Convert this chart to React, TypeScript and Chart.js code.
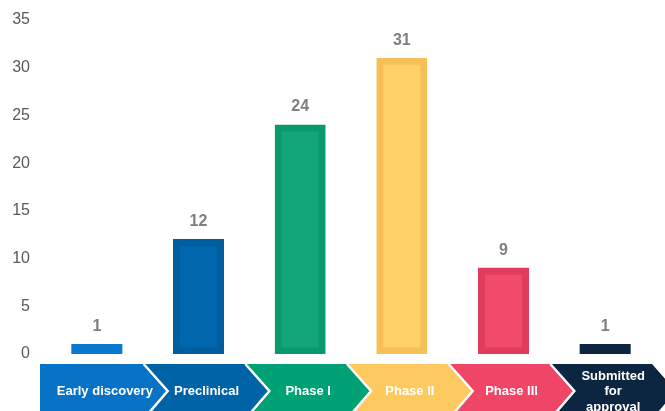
import React, { useEffect, useRef } from "react";
import { Chart, registerables } from "chart.js";

Chart.register(...registerables);

const categories: (string | string[])[] = [
  "Early discovery",
  "Preclinical",
  "Phase I",
  "Phase II",
  "Phase III",
  ["Submitted", "for", "approval"],
];
const values = [1, 12, 24, 31, 9, 1];
const barFill = ["#0a79cd", "#0067ae", "#13a67b", "#ffd065", "#f14a6b", "#0c2540"];
const barBorder = ["#0a72c2", "#005e9f", "#0a986d", "#f7c057", "#e03d5e", "#0c2540"];
const barBorderWidth = [0, 7, 7, 7, 7, 0];
const arrowColors = ["#0873c6", "#0062a7", "#00a275", "#fec95f", "#ef4567", "#0c2540"];
const yTicks = [0, 5, 10, 15, 20, 25, 30, 35];

const FONT = "'Liberation Sans', Arial, sans-serif";

const chevronPlugin = {
  id: "chevrons",
  beforeDraw(chart: any) {
    const xs = chart.scales.x;
    const ctx = chart.ctx;
    const n = categories.length;
    const cw = xs.width / n;
    const yT = 364;
    const yB = 419;
    const ym = 391;
    const notch = (i: number) => xs.getPixelForValue(i) + cw / 2 - 4;
    const point = (i: number) => xs.getPixelForValue(i) + cw / 2 + 20;
    ctx.save();
    for (let i = 0; i < n; i++) {
      ctx.beginPath();
      if (i === 0) {
        ctx.moveTo(40, yT);
        ctx.lineTo(notch(i), yT);
        ctx.lineTo(point(i), ym);
        ctx.lineTo(notch(i), yB);
        ctx.lineTo(40, yB);
      } else {
        ctx.moveTo(notch(i - 1), yT);
        ctx.lineTo(notch(i), yT);
        ctx.lineTo(point(i), ym);
        ctx.lineTo(notch(i), yB);
        ctx.lineTo(notch(i - 1), yB);
        ctx.lineTo(point(i - 1), ym);
      }
      ctx.closePath();
      ctx.fillStyle = arrowColors[i];
      ctx.fill();
    }
    ctx.strokeStyle = "#ffffff";
    ctx.lineWidth = 2.5;
    for (let i = 0; i < n - 1; i++) {
      ctx.beginPath();
      ctx.moveTo(notch(i), yT);
      ctx.lineTo(point(i), ym);
      ctx.lineTo(notch(i), yB);
      ctx.stroke();
    }
    ctx.restore();
  },
};

const valueLabelPlugin = {
  id: "valueLabels",
  afterDatasetsDraw(chart: any) {
    const ctx = chart.ctx;
    const meta = chart.getDatasetMeta(0);
    ctx.save();
    ctx.font = `bold 16px ${FONT}`;
    ctx.fillStyle = "#7f7f7f";
    ctx.textAlign = "center";
    ctx.textBaseline = "middle";
    meta.data.forEach((bar: any, i: number) => {
      ctx.fillText(String(values[i]), bar.x, bar.y - 18);
    });
    ctx.restore();
  },
};

export default function App() {
  const ref = useRef<HTMLCanvasElement | null>(null);
  useEffect(() => {
    if (!ref.current) return;
    const chart = new Chart(ref.current, {
      type: "bar",
      data: {
        labels: categories,
        datasets: [
          {
            data: values,
            backgroundColor: barFill,
            borderColor: barBorder,
            borderWidth: barBorderWidth,
            borderSkipped: false,
            inflateAmount: 0.5,
            barPercentage: 0.492,
            categoryPercentage: 1,
          },
        ],
      },
      options: {
        responsive: true,
        maintainAspectRatio: false,
        animation: false,
        layout: { padding: { top: 20, right: 9, left: 0, bottom: 0 } },
        plugins: {
          legend: { display: false },
          tooltip: { enabled: false },
        },
        scales: {
          x: {
            grid: { display: false, drawTicks: false },
            border: { display: false },
            ticks: {
              color: "#ffffff",
              font: { family: FONT, size: 13, weight: "bold" },
              padding: 22,
              labelOffset: 8,
              maxRotation: 0,
              autoSkip: false,
              crossAlign: "center",
            },
            afterFit: (s: any) => {
              s.height = 57;
            },
          },
          y: {
            min: 0,
            max: 35,
            grid: { display: false, drawTicks: false },
            border: { display: false },
            afterBuildTicks: (s: any) => {
              s.ticks = yTicks.map((v) => ({ value: v }));
            },
            ticks: {
              color: "#595959",
              font: { family: FONT, size: 16 },
              padding: 16,
            },
            afterFit: (s: any) => {
              s.width = 46;
              s.paddingTop = 0;
              s.paddingBottom = 0;
            },
          },
        },
      },
      plugins: [chevronPlugin, valueLabelPlugin],
    });
    return () => chart.destroy();
  }, []);
  return (
    <div style={{ position: "absolute", left: 0, top: 0, width: 665, height: 411, background: "#ffffff" }}>
      <canvas ref={ref} />
    </div>
  );
}
